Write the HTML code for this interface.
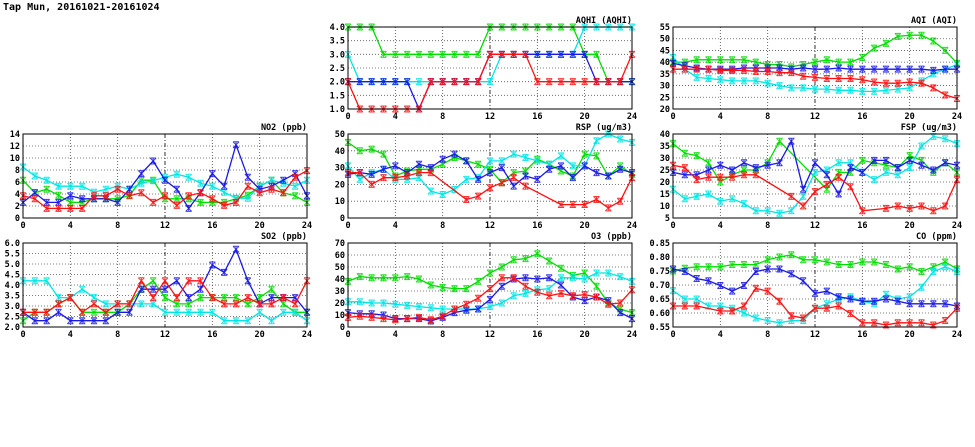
<!DOCTYPE html>
<html><head><meta charset="utf-8"><style>
html,body{margin:0;padding:0;background:#fff;}
svg{display:block;font-family:"DejaVu Sans Mono","Liberation Mono",monospace;}
</style></head><body>
<svg id="chart" width="975" height="447" viewBox="0 0 975 447" xmlns="http://www.w3.org/2000/svg">
<text x="3" y="10" font-size="10" font-weight="bold" fill="#000">Tap Mun, 20161021-20161024</text>
</svg>
<script>
const hours = [0,1,2,3,4,5,6,7,8,9,10,11,12,13,14,15,16,17,18,19,20,21,22,23,24];
const xTicks = [0,4,8,12,16,20,24];

const aqhiGreen = [4,4,4,3,3,3,3,3,3,3,3,3,4,4,4,4,4,4,4,4,3,3,2,2,2];
const aqhiCyan  = [3,2,2,2,2,2,2,2,2,2,2,2,2,3,3,3,3,3,3,3,4,4,4,4,4];
const aqhiBlue  = [2,2,2,2,2,2,1,2,2,2,2,2,3,3,3,3,3,3,3,3,3,2,2,2,2];
const aqhiRed   = [2,1,1,1,1,1,1,2,2,2,2,2,3,3,3,3,2,2,2,2,2,2,2,2,3];
const aqhiTicks = [1.0,1.5,2.0,2.5,3.0,3.5,4.0];

const aqiGreen = [40,40,41,41,41,41,41,40,39,39,38,39,40,41,40,40,42,46,48,51,51.5,51.5,49,45,39.5];
const aqiCyan  = [42,37,33.5,33,32.5,32,32,32,31,30,29,29,28.5,28.5,28,28,27.5,27.5,28,28.5,29,32,35,37,39];
const aqiBlue  = [39.5,38.5,37.5,37,37,37,37.5,37.5,37.5,37.5,37,37.5,37,37,37.5,37,37,37,37,37,37,37,36.5,37,37];
const aqiRed   = [37,37,37,37,36.5,36.5,36.5,36,36,35.5,35.5,34,33.5,33,33,33,32.5,31.5,31,31,31.5,31,29,26,24.5];
const aqiTicks = [20,25,30,35,40,45,50,55];

const no2Green = [6.3,4.2,4.8,3.8,2.6,2.6,3.2,3.2,3.2,3.8,6.3,6.3,3.2,3.2,3.2,2.6,2.6,2.6,3.2,3.8,5.3,6.3,4.2,3.7,2.6];
const no2Cyan  = [8.5,7,6.3,5.3,5.3,5.3,4.3,4.8,5.3,4.8,5.8,6.2,6.8,7.3,6.8,5.8,5.3,4.3,3.3,3.3,5.3,6.3,5.8,5.3,6.3];
const no2Blue  = [2.6,4.2,2.6,2.6,3.7,3.2,3.2,3.2,2.6,4.8,7.4,9.5,6.3,4.8,1.6,4.2,7.4,5.3,12.2,6.8,4.8,5.3,6.3,7.4,3.7];
const no2Red   = [3.7,3.2,1.6,1.6,1.6,1.6,3.7,3.7,4.8,3.7,4.2,2.6,3.7,2.1,3.7,4.2,3.2,2.1,2.6,5.3,4.2,4.8,4.2,6.8,7.9];
const no2Ticks = [0,2,4,6,8,10,12,14];

const rspGreen = [45,40,41,38,25,28,29,29,32,36,34,32,29,21,27,28,35,32,28,25,38,37,25,31,26];
const rspCyan  = [31,23,27,29,23,23,24,16,14,17,23,24,34,34,38,36,34,32,37,31,31,46,50,47,45];
const rspBlue  = [26,27,26,29,31,27,32,30,35,38,34,23,27,30,19,25,23,29,31,24,31,27,25,29,27];
const rspRed   = [27,27,20,24,24,25,27,27,null,null,11,13,18,21,24,19,null,null,8,8,8,11,6,10,24];
const rspTicks = [0,10,20,30,40,50];

const fspGreen = [36,32,31,28,20,23,25,25,28,37,null,null,null,17,24,24,29,28,27,26,31,29,24,28,24];
const fspCyan  = [17,13,14,15,12,13,11,8,8,7,8,14,24,25,28,28,24,21,24,23,26,35,39,38,36];
const fspBlue  = [24,23,23,25,27,25,28,26,27,28,37,17,28,23,15,26,24,29,29,26,29,27,25,28,27];
const fspRed   = [27,26,21,22,22,22,23,23,null,null,14,10,16,19,22,18,8,null,9,10,9,10,8,10,21];
const fspTicks = [5,10,15,20,25,30,35,40];

const so2Green = [2.3,2.7,2.7,3.1,3.4,2.7,2.7,2.7,2.7,3.1,3.8,4.2,3.4,3.1,3.1,3.4,3.4,3.4,3.4,3.1,3.4,3.8,3.1,2.7,2.7];
const so2Cyan  = [4.2,4.2,4.2,3.4,3.4,3.8,3.4,3.1,3.1,3.1,3.1,3.1,2.7,2.7,2.7,2.7,2.7,2.3,2.3,2.3,2.7,2.3,2.7,2.7,2.3];
const so2Blue  = [2.7,2.3,2.3,2.7,2.3,2.3,2.3,2.3,2.7,2.7,3.8,3.8,3.8,4.2,3.4,3.8,4.95,4.6,5.7,4.2,3.1,3.4,3.4,3.4,2.7];
const so2Red   = [2.7,2.7,2.7,3.1,3.4,2.7,3.1,2.7,3.1,3.1,4.2,3.4,4.2,3.4,4.2,4.2,3.4,3.1,3.1,3.4,3.1,3.1,3.4,3.1,4.2];
const so2Ticks = [2.0,2.5,3.0,3.5,4.0,4.5,5.0,5.5,6.0];

const o3Green = [38,42,41,41,41,42,40,35,33,32,32,38,45,50,56,57,61,55,49,43,45,34,20,15,12];
const o3Cyan  = [21,21,20,20,19,18,17,16,15,15,15,15,17,20,26,28,31,32,41,41,40,45,45,42,38];
const o3Blue  = [12,11,11,10,7,7,7,5,8,12,14,15,23,34,40,41,40,41,35,25,22,25,22,12,7];
const o3Red   = [8,9,8,7,6,7,8,6,9,15,19,24,32,41,41,34,29,26,28,26,27,25,19,20,31];
const o3Ticks = [0,10,20,30,40,50,60,70];

const coGreen = [0.75,0.76,0.765,0.765,0.765,0.773,0.773,0.773,0.79,0.80,0.808,0.79,0.79,0.782,0.773,0.773,0.782,0.782,0.773,0.757,0.765,0.748,0.765,0.782,0.757];
const coCyan  = [0.68,0.65,0.65,0.625,0.625,0.617,0.6,0.582,0.573,0.565,0.573,0.573,0.617,0.633,0.65,0.658,0.642,0.633,0.667,0.65,0.658,0.692,0.748,0.765,0.748];
const coBlue  = [0.757,0.748,0.723,0.715,0.698,0.678,0.698,0.748,0.757,0.757,0.74,0.715,0.67,0.678,0.658,0.65,0.642,0.642,0.65,0.642,0.633,0.633,0.633,0.633,0.625];
const coRed   = [0.625,0.625,0.625,null,0.607,0.607,0.625,0.688,0.678,0.642,0.59,0.582,0.617,0.617,0.625,0.598,0.565,0.565,0.557,0.565,0.565,0.565,0.557,0.573,0.617];
const coTicks = [0.55,0.60,0.65,0.70,0.75,0.80,0.85];

const NS = "http://www.w3.org/2000/svg";
const svg = document.getElementById("chart");
function mk(tag, attrs, parent) {
  const e = document.createElementNS(NS, tag);
  for (const k in attrs) e.setAttribute(k, attrs[k]);
  (parent || svg).appendChild(e);
  return e;
}
const COLORS = ["#00dd00", "#00e5e5", "#1a1ae6", "#ff1010"];
const SNAMES = ["green", "cyan", "blue", "red"];

function panel(key, title, box, ticks, dec, series) {
  const g = mk("g", {});
  
  
  const [x0, y0, x1, y1] = box;
  const ymin = ticks[0], ymax = ticks[ticks.length - 1];
  const sx = v => x0 + (v - 0) / 24 * (x1 - x0);
  const sy = v => y1 - (v - ymin) / (ymax - ymin) * (y1 - y0);
  // grid
  ticks.forEach((t, i) => {
    if (i === 0 || i === ticks.length - 1) return;
    const l = mk("line", {x1: x0, x2: x1, y1: sy(t), y2: sy(t), stroke: "#555", "stroke-width": 0.8, "stroke-dasharray": "1,2"}, g);
    
    
  });
  xTicks.forEach((t, i) => {
    if (i === 0 || i === xTicks.length - 1) return;
    const l = mk("line", {x1: sx(t), x2: sx(t), y1: y0, y2: y1, stroke: t === 12 ? "#000" : "#444", "stroke-width": 0.8, "stroke-dasharray": t % 12 === 0 ? "4,2,1,2" : "1,2"}, g);
    
    
  });
  // y ticks and labels
  ticks.forEach(t => {
    const lab = mk("text", {x: x0 - 3, y: sy(t) + 3, "text-anchor": "end", "font-size": 8.5, "font-weight": "bold", fill: "#000"}, g);
    lab.textContent = t.toFixed(dec);
    
    
  });
  xTicks.forEach(t => {
    const lab = mk("text", {x: sx(t), y: y1 + 10, "text-anchor": "middle", "font-size": 8.5, "font-weight": "bold", fill: "#000"}, g);
    lab.textContent = String(t);
    
    
  });
  // series
  series.forEach((vals, si) => {
    const sg = mk("g", {}, g);
    
    
    let d = "";
    vals.forEach((v, i) => {
      if (v === null) return;
      d += (d ? "L" : "M") + sx(hours[i]).toFixed(1) + "," + sy(v).toFixed(1);
    });
    const p = mk("path", {d: d, fill: "none", stroke: COLORS[si], "stroke-width": 1.3}, sg);
    
    
    vals.forEach((v, i) => {
      if (v === null) return;
      const cx = sx(hours[i]), cy = sy(v), r = 3;
      const m = mk("path", {d: `M${cx-r},${cy-r}L${cx+r},${cy+r}M${cx-r},${cy+r}L${cx+r},${cy-r}M${cx},${cy-r}L${cx},${cy+r}M${cx-r},${cy-r}L${cx+r},${cy-r}M${cx-r},${cy+r}L${cx+r},${cy+r}`, stroke: COLORS[si], "stroke-width": 1, "stroke-opacity": 0.85, fill: "none"}, sg);
      
      
    });
  });
  // frame
  const fr = mk("rect", {x: x0, y: y0, width: x1 - x0, height: y1 - y0, fill: "none", stroke: "#000", "stroke-width": 1}, g);
  
  
  const tt = mk("text", {x: x1, y: y0 - 4, "text-anchor": "end", "font-size": 8.5, "font-weight": "bold", fill: "#000"}, g);
  tt.textContent = title;
  
  
}

const R1 = [27, 109], R2 = [134, 218], R3 = [243, 327];
const C1 = [23, 307], C2 = [348, 632], C3 = [673, 957];
panel("aqhi", "AQHI (AQHI)", [C2[0], R1[0], C2[1], R1[1]], aqhiTicks, 1, [aqhiGreen, aqhiCyan, aqhiBlue, aqhiRed]);
panel("aqi", "AQI (AQI)", [C3[0], R1[0], C3[1], R1[1]], aqiTicks, 0, [aqiGreen, aqiCyan, aqiBlue, aqiRed]);
panel("no2", "NO2 (ppb)", [C1[0], R2[0], C1[1], R2[1]], no2Ticks, 0, [no2Green, no2Cyan, no2Blue, no2Red]);
panel("rsp", "RSP (ug/m3)", [C2[0], R2[0], C2[1], R2[1]], rspTicks, 0, [rspGreen, rspCyan, rspBlue, rspRed]);
panel("fsp", "FSP (ug/m3)", [C3[0], R2[0], C3[1], R2[1]], fspTicks, 0, [fspGreen, fspCyan, fspBlue, fspRed]);
panel("so2", "SO2 (ppb)", [C1[0], R3[0], C1[1], R3[1]], so2Ticks, 1, [so2Green, so2Cyan, so2Blue, so2Red]);
panel("o3", "O3 (ppb)", [C2[0], R3[0], C2[1], R3[1]], o3Ticks, 0, [o3Green, o3Cyan, o3Blue, o3Red]);
panel("co", "CO (ppm)", [C3[0], R3[0], C3[1], R3[1]], coTicks, 2, [coGreen, coCyan, coBlue, coRed]);
</script>
</body></html>
